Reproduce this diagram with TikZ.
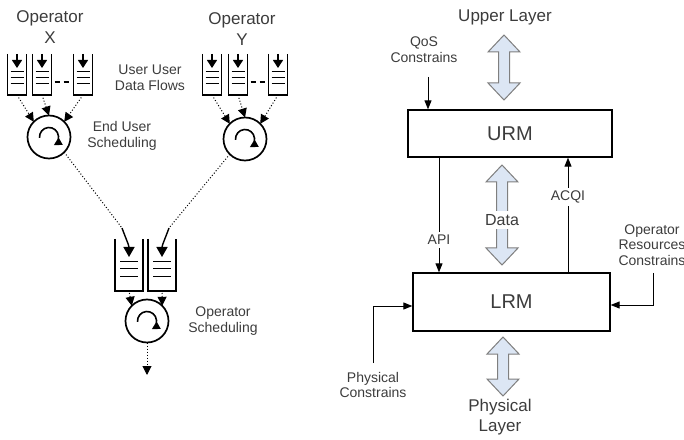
\documentclass[tikz,border=0pt]{standalone}
\usepackage{fontspec}
\setmainfont{Liberation Sans}
\usetikzlibrary{arrows.meta,calc}
\definecolor{txt}{HTML}{3C3C3C}
\definecolor{dafill}{HTML}{DCE6F4}
\definecolor{daline}{HTML}{7F7F7F}
\tikzset{
 lbl/.style={text=txt, align=center, inner sep=0pt, font=\fontsize{14}{15.5}\selectfont},
 biglbl/.style={text=txt, align=center, inner sep=0pt, font=\fontsize{17}{20.5}\selectfont},
 qnode/.style={draw=none, inner sep=0pt, outer sep=0pt},
 qline/.style={line width=1.7pt, black},
 sched/.style={circle, draw, line width=1.7pt, minimum size=43pt, inner sep=0pt, outer sep=0pt},
 dotarrow/.style={dotted, line width=1pt, -{Triangle[length=9pt,width=9pt]}},
 dotline/.style={dotted, line width=1pt},
 rm/.style={draw, line width=1.3pt, inner sep=0pt, text=txt, font=\fontsize{20}{24}\selectfont},
 conn/.style={line width=0.9pt, -{Triangle[length=9pt,width=7pt]}},
 wlbl/.style={lbl, fill=white, inner sep=3pt},
 dblarrow/.style={fill=dafill, draw=daline, line width=1pt, line join=miter},
}
% queue: name, x, y, w, h, margin
\newcommand{\qbox}[6]{%
 \node[qnode, minimum width=#4pt, minimum height=#5pt] (#1) at (#2,#3) {};
 \draw[qline] (#1.north west) -- (#1.south west) -- (#1.south east) -- (#1.north east);
 \foreach \f in {0.28,0.43,0.57}{\draw[qline] ($(#1.south west)!\f!(#1.north west)+(#6,0)$) -- ($(#1.south east)!\f!(#1.north east)+(-#6,0)$);}
}
\newcommand{\qarrow}[1]{%
 \draw[line width=1.2pt, -{Triangle[length=8pt,width=10pt]}] (#1.north) -- ++(0,-14);
}
\newcommand{\schedarrow}[1]{%
 \draw[line width=1.6pt, -{Triangle[length=8pt,width=8pt]}] ($(#1)+(185:9.5)$) arc[start angle=185, end angle=-60, radius=9.5];
}
% double arrow: name, x, ytop, ybot
\newcommand{\dblarr}[4]{%
 \draw[dblarrow] (#2,#3) -- ++(16,-17) -- ++(-10.5,0) -- (#2+5.5,#4+17) -- ++(10.5,0) -- (#2,#4) -- ++(-16,17) -- ++(10.5,0) -- (#2-5.5,#3-17) -- ++(-10.5,0) -- cycle;
 \coordinate (#1) at (#2,{(#3+#4)/2});
}
\begin{document}
\begin{tikzpicture}[x=1pt,y=1pt]
\useasboundingbox (0,0) rectangle (684,439);
% ---------- left ----------
\node[biglbl] (opx) at (50,412) {Operator\\X};
\node[biglbl] (opy) at (242,410) {Operator\\Y};
\node[lbl] (udf) at (150,361) {User User\\Data Flows};
\node[lbl] (eus) at (122,303) {End User\\Scheduling};
\node[lbl] (ops) at (223,118) {Operator\\Scheduling};

\qbox{qx1}{17}{364.5}{19}{41}{3}
\qbox{qx2}{42}{364.5}{19}{41}{3}
\qbox{qx3}{83}{364.5}{19}{41}{3}
\qarrow{qx1}\qarrow{qx2}\qarrow{qx3}
\draw[line width=1.4pt, dash pattern=on 5pt off 4pt] ($(qx2.south east)+(3,13)$) -- ($(qx3.south west)+(-3,13)$);

\qbox{qy1}{212}{364.5}{19}{41}{3}
\qbox{qy2}{238}{364.5}{19}{41}{3}
\qbox{qy3}{278}{364.5}{19}{41}{3}
\qarrow{qy1}\qarrow{qy2}\qarrow{qy3}
\draw[line width=1.4pt, dash pattern=on 5pt off 4pt] ($(qy2.south east)+(3,13)$) -- ($(qy3.south west)+(-3,13)$);

\node[sched] (cx) at (49,302) {};
\node[sched] (cy) at (245,300) {};
\node[sched] (cb) at (147,118) {};
\schedarrow{cx}\schedarrow{cy}\schedarrow{cb}

\draw[dotarrow, shorten <=3pt] (qx1.south) -- (cx.north west);
\draw[dotarrow, shorten <=3pt] (qx2.south) -- (cx.north);
\draw[dotarrow, shorten <=3pt] (qx3.south) -- (cx.north east);
\draw[dotarrow, shorten <=3pt] (qy1.south) -- (cy.north west);
\draw[dotarrow, shorten <=3pt] (qy2.south) -- (cy.north);
\draw[dotarrow, shorten <=3pt] (qy3.south) -- (cy.north east);

\qbox{qbl}{129}{174}{28}{52}{5}
\qbox{qbr}{162}{174}{28}{52}{5}
\coordinate (inL) at (122,211);
\coordinate (inR) at (169,211);
\draw[dotline] (cx.south east) -- (inL);
\draw[dotline] (cy.south west) -- (inR);
\draw[line width=1.4pt, -{Triangle[length=10pt,width=11pt]}] (inL) to[out=-70,in=90] ($(qbl.north)+(0,-18)$);
\draw[line width=1.4pt, -{Triangle[length=10pt,width=11pt]}] (inR) to[out=-110,in=90] ($(qbr.north)+(0,-18)$);
\draw[dotarrow, shorten <=2pt] (qbl.south) -- (cb.north west);
\draw[dotarrow, shorten <=2pt] (qbr.south) -- (cb.north east);
\coordinate (outB) at (147,64);
\draw[dotarrow] (cb.south) -- (outB);

% ---------- right ----------
\node[biglbl] (ul) at (505,422) {Upper Layer};
\dblarr{ua}{504}{404}{339}
\node[lbl] (qos) at (424,389.5) {QoS\\Constrains};
\node[rm, minimum width=204pt, minimum height=47pt] (urm) at (510,305.5) {URM};
\node[rm, minimum width=197pt, minimum height=58pt] (lrm) at (511.5,137) {LRM};
\coordinate (qosin) at (428,362);
\draw[conn] (qosin) -- (qosin |- urm.north);
\dblarr{da}{502}{274}{174}
\node[wlbl, font=\fontsize{16}{19}\selectfont] (data) at (502,219) {Data};
\coordinate (apix) at (439,0);
\coordinate (acqx) at (568,0);
\draw[conn] (apix |- urm.south) -- node[wlbl, pos=0.716] (api) {API} (apix |- lrm.north);
\draw[conn] (acqx |- lrm.north) -- node[wlbl, pos=0.655] (acqi) {ACQI} (acqx |- urm.south);
\node[lbl] (orc) at (652,194) {Operator\\Resources\\Constrains};
\coordinate (orcin) at (653,166);
\draw[conn] (orcin) |- ([yshift=-3pt]lrm.east);
\node[lbl] (pc) at (373,54) {Physical\\Constrains};
\coordinate (pcin) at (373,76);
\draw[conn] (pcin) |- ([yshift=-4pt]lrm.west);
\dblarr{ba}{503}{102}{43}
\node[biglbl] (pl) at (500,22) {Physical\\Layer};
\end{tikzpicture}
\end{document}
